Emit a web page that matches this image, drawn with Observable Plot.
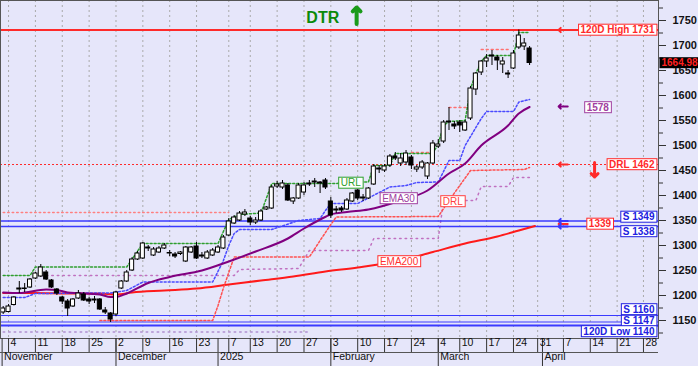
<!DOCTYPE html>
<html><head><meta charset="utf-8">
<script src="https://cdn.jsdelivr.net/npm/d3@7"></script>
<script src="https://cdn.jsdelivr.net/npm/@observablehq/plot@0.6"></script>
<style>body{margin:0;background:#fff} #chart svg{display:block}</style>
</head><body><div id="chart"></div>
<script>
// ---- candle data (bar index = position in arrays) ----
const opens  = [1166,1167,1181,1212,1214,1216,1234,1238,1246,1230,1212,1196,1188,1178,1194,1202,1192,1190,1192,1170,1164,1162,1214,1228,1250,1272,1274,1296,1280,1286,1294,1285,1282,1283,1268,1286,1298,1278,1274,1280,1286,1294,1320,1344,1350,1362,1354,1346,1350,1372,1374,1418,1416,1420,1388,1394,1406,1422,1426,1426,1430,1388,1370,1374,1372,1388,1410,1394,1394,1422,1452,1450,1460,1478,1464,1466,1476,1452,1456,1438,1464,1498,1508,1546,1542,1546,1530,1554,1612,1646,1668,1678,1676,1662,1642,1654,1696,1698,1694];
const highs  = [1178,1182,1198,1228,1224,1234,1246,1262,1250,1232,1214,1198,1192,1194,1210,1206,1196,1198,1194,1176,1166,1208,1230,1250,1276,1288,1306,1300,1296,1298,1304,1290,1286,1288,1298,1298,1306,1286,1290,1294,1300,1320,1354,1360,1368,1372,1358,1356,1372,1378,1420,1428,1430,1424,1396,1424,1426,1430,1434,1428,1434,1396,1378,1378,1394,1406,1412,1402,1416,1462,1460,1462,1482,1486,1484,1490,1480,1460,1470,1466,1510,1512,1550,1576,1548,1550,1550,1618,1646,1670,1682,1690,1680,1676,1650,1690,1731,1714,1698];
const lows   = [1162,1165,1179,1204,1206,1214,1232,1236,1230,1214,1200,1182,1158,1176,1192,1188,1182,1184,1170,1162,1146,1158,1212,1226,1248,1270,1272,1288,1278,1284,1292,1278,1274,1280,1266,1284,1272,1274,1272,1278,1284,1292,1318,1342,1348,1358,1340,1342,1348,1370,1372,1414,1412,1388,1382,1392,1400,1418,1416,1404,1412,1354,1364,1366,1370,1386,1390,1388,1392,1420,1444,1446,1456,1470,1458,1460,1452,1446,1452,1432,1462,1494,1504,1530,1532,1526,1528,1550,1600,1640,1656,1660,1650,1644,1634,1652,1692,1690,1660];
const closes = [1174,1178,1196,1214,1213,1232,1244,1256,1232,1216,1204,1188,1174,1192,1204,1190,1188,1192,1172,1166,1152,1206,1228,1246,1272,1284,1304,1294,1292,1294,1300,1284,1278,1286,1296,1296,1274,1280,1286,1290,1296,1316,1348,1356,1364,1366,1346,1350,1368,1376,1416,1422,1424,1390,1394,1420,1420,1424,1428,1424,1416,1360,1372,1370,1390,1404,1394,1396,1414,1458,1454,1458,1478,1474,1474,1484,1460,1456,1466,1464,1504,1502,1546,1548,1538,1540,1546,1614,1644,1668,1674,1680,1670,1668,1644,1684,1720,1704,1664.98];

// ---- indicator lines: [bar index, value] ----
const ema30  = [[0,1206],[3,1205],[8,1212],[10,1211],[12,1206],[18,1202],[20,1197],[21,1197],[23,1204],[27,1225],[31,1237],[37,1250],[42,1268],[47,1288],[53,1314],[56,1334],[59,1352],[61,1362],[64,1367],[68,1372],[74,1390],[79,1410],[83,1444],[86,1464],[89,1500],[94,1540],[96,1564],[98,1577]];
const ema200 = [[0,1205],[6,1205],[12,1204],[18,1204],[21,1202],[24,1206],[30,1210],[36,1214],[42,1222],[48,1230],[54,1238],[60,1248],[66,1256],[74,1270],[80,1287],[86,1304],[92,1318],[96,1330],[99,1339]];
const urlLine = [[0,1240],[5,1240],[6,1257],[23,1257],[26,1304],[40,1304],[42,1352],[44,1362],[48,1365],[50,1424],[62,1424],[66,1427],[68,1427],[69,1460],[72,1460],[73,1484],[80,1484],[81,1504],[82,1540],[83,1548],[86,1550],[87,1614],[88,1644],[89,1668],[90,1680],[95,1680],[96,1726],[98,1726]];
const drlLine = [[18,1150],[39,1150],[40,1180],[41,1215],[42,1246],[43,1277],[57,1277],[59,1310],[61,1342],[62,1357],[81,1358],[83,1390],[85,1420],[87,1450],[97,1452],[98,1456]];
const stopLine = [[0,1196],[4,1196],[5,1200],[6,1204],[18,1205],[20,1205],[23,1210],[26,1227],[39,1227],[41,1270],[42,1300],[43,1324],[44,1332],[50,1332],[55,1350],[59,1354],[60,1370],[61,1384],[66,1384],[72,1417],[75,1420],[77,1426],[81,1427],[83,1470],[85,1470],[86,1500],[89,1554],[90,1568],[95,1568],[96,1587],[98,1592]];
const midLine = [[7,1240],[43,1240],[44,1252],[55,1254],[57,1290],[68,1290],[69,1314],[81,1314],[82,1390],[88,1390],[89,1418],[94,1418],[95,1436],[98,1436]];
const lowDots = [[0,1127],[57,1127]];
const oldDrl = [[0,1366],[42,1366]];
const resistSegs = [[83,87,1576],[89,94,1692],[76,80,1486]];

// ---- horizontal levels ----
const redLevels = [1731];
const drlLevels = [1462];
const blueLevels = [1349, 1338, 1160, 1147];
const lowLevel = [1140];

// ---- axis ticks ----
const yMajor = [1150,1200,1250,1300,1350,1400,1450,1500,1550,1600,1650,1700,1750];
const yMinor = [1125,1175,1225,1275,1325,1375,1425,1475,1525,1575,1625,1675,1725,1775];
const weekIdx = [1,6,11,16,21,26,31,36,42,46,51,56,61,66,71,76,81,85,90,95,99.5,104.3,109.3,114.3,119.2];
const weekLab = ["4","11","18","25","2","9","16","23","7","13","20","27","3","10","17","24","4","10","17","24","31","7","14","21","28"];
const monthIdx = [-0.2,21,40,61,81,100.4];
const monthLab = ["November","December","2025","February","March","April"];

// ---- annotations ----
const lineLabels = [{t:"URL",i:64.7,v:1425,c:"#2ca02c"},{t:"EMA30",i:73.6,v:1394,c:"#a040a0"},{t:"DRL",i:83.7,v:1388,c:"#ff4040"},{t:"EMA200",i:73.7,v:1268,c:"#ff3030"}];

const ticks = weekIdx.map((i,k)=>({i, label: weekLab[k]}));
const months = monthIdx.map((i,k)=>({i, label: monthLab[k]}));
const candles = opens.map((o,i)=>({i, o, h: highs[i], l: lows[i], c: closes[i]}));
const up = candles.filter(d=>d.c>=d.o), dn = candles.filter(d=>d.c<d.o);
const last = closes[closes.length-1];

const RED="#ff2a2a", BLUE="#3a3aff", PURP="#800080";
const FONT = "'Liberation Sans', Arial, sans-serif";
const arrowX1 = 105.1, arrowX2 = 103.4;

const px = d=>d[0], py = d=>d[1];

const boxed = (data, opts, name) => Plot.text(data, {fontSize: 10, fontFamily: FONT, ariaDescription: name, ...opts});

const chart = Plot.plot({
  width: 698, height: 366,
  marginLeft: 0, marginRight: 40, marginTop: 0, marginBottom: 28,
  x: {type: "linear", domain: [-0.5, 122], axis: null, label: null},
  y: {type: "linear", domain: [1114, 1790], axis: null, label: null},
  style: {background: "#e6e6fa", fontFamily: FONT, overflow: "visible"},
  marks: [
    // grid
    Plot.ruleX(weekIdx, {stroke: "#aaaaaa", strokeDasharray: "2,3"}),
    // faint dotted lines
    Plot.line(lowDots, {x: px, y: py, stroke: "#b090d0", strokeDasharray: "1.5,4"}),
    Plot.line(oldDrl, {x: px, y: py, stroke: "#ff8080", strokeDasharray: "1.5,3"}),
    Plot.line(midLine, {x: px, y: py, stroke: "#c070c0", strokeDasharray: "1.5,4"}),
    ...resistSegs.map(s => Plot.line([[s[0], s[2]], [s[1], s[2]]], {x: px, y: py, stroke: "#ff7070", strokeDasharray: "2,3"})),
    // horizontal levels
    Plot.ruleY(drlLevels, {stroke: RED, strokeDasharray: "2,2"}),
    Plot.ruleY(blueLevels.slice(0,2), {stroke: BLUE, strokeWidth: 1.3}),
    Plot.ruleY(blueLevels.slice(2), {stroke: BLUE, strokeWidth: 1}),
    Plot.ruleY(lowLevel, {stroke: BLUE, strokeWidth: 2.2}),
    Plot.ruleY(redLevels, {stroke: RED, strokeWidth: 2}),
    // indicator lines
    Plot.line(ema200, {x: px, y: py, stroke: "#ff1a1a", strokeWidth: 2, curve: "monotone-x"}),
    Plot.line(stopLine, {x: px, y: py, stroke: "#4a4aff", strokeDasharray: "2,2"}),
    Plot.line(drlLine, {x: px, y: py, stroke: "#ff5050", strokeDasharray: "2,2"}),
    Plot.line(urlLine, {x: px, y: py, stroke: "#2e9e2e", strokeDasharray: "2,2"}),
    Plot.line(ema30, {x: px, y: py, stroke: PURP, strokeWidth: 2, curve: "monotone-x"}),
    // candles
    Plot.ruleX(candles, {x: "i", y1: "l", y2: "h", stroke: "#000", strokeWidth: 1}),
    Plot.rect(up, {x1: d=>d.i-0.38, x2: d=>d.i+0.38, y1: "o", y2: "c", fill: "#fff", stroke: "#000", strokeWidth: 1}),
    Plot.rect(dn, {x1: d=>d.i-0.38, x2: d=>d.i+0.38, y1: "o", y2: "c", fill: "#000", stroke: "#000", strokeWidth: 1}),
    // line labels
    ...lineLabels.map(d => boxed([d], {x: "i", y: "v", text: "t", fill: d.c, textAnchor: "middle"}, "boxed")),
    // right side arrows
    Plot.arrow([1731], {x1: arrowX1, x2: arrowX2, y1: d=>d, y2: d=>d, stroke: RED, strokeWidth: 2, headLength: 5, headAngle: 90}),
    Plot.arrow([1578], {x1: arrowX1, x2: arrowX2, y1: d=>d, y2: d=>d, stroke: PURP, strokeWidth: 2, headLength: 5, headAngle: 90}),
    Plot.arrow([1462], {x1: arrowX1, x2: arrowX2, y1: d=>d, y2: d=>d, stroke: RED, strokeWidth: 2, headLength: 5, headAngle: 90}),
    Plot.arrow([1339], {x1: arrowX1, x2: arrowX2, y1: d=>d, y2: d=>d, stroke: RED, strokeWidth: 2, headLength: 5, headAngle: 90, dy: -2}),
    Plot.arrow([1349, 1338], {x1: arrowX1, x2: arrowX2, y1: d=>d, y2: d=>d, stroke: BLUE, strokeWidth: 2, headLength: 5, headAngle: 90}),
    Plot.arrow([{a: 1466, b: 1437}], {x1: 110.1, x2: 110.1, y1: "a", y2: "b", stroke: RED, strokeWidth: 3, headLength: 8, headAngle: 90}),
    // right side labels
    boxed([1731], {y: d=>d, text: d=>"120D High " + d, frameAnchor: "right", textAnchor: "end", dx: -4, fill: RED, fontWeight: "bold"}, "boxed"),
    boxed([1462], {y: d=>d, text: d=>"DRL " + d, frameAnchor: "right", textAnchor: "end", dx: -4, fill: RED, fontWeight: "bold"}, "boxed"),
    boxed([1349], {y: d=>d, text: d=>"S " + d, frameAnchor: "right", textAnchor: "end", dx: -4, dy: -4, fill: "#2020e0", fontWeight: "bold"}, "boxed"),
    boxed([1338], {y: d=>d, text: d=>"S " + d, frameAnchor: "right", textAnchor: "end", dx: -4, dy: 5, fill: "#2020e0", fontWeight: "bold"}, "boxed"),
    boxed([1160], {y: d=>d, text: d=>"S " + d, frameAnchor: "right", textAnchor: "end", dx: -4, dy: -6, fill: "#2020e0", fontWeight: "bold"}, "boxed"),
    boxed([1147], {y: d=>d, text: d=>"S " + d, frameAnchor: "right", textAnchor: "end", dx: -4, dy: -1, fill: "#2020e0", fontWeight: "bold"}, "boxed"),
    boxed([1140], {y: d=>d, text: d=>"120D Low " + d, frameAnchor: "right", textAnchor: "end", dx: -4, dy: 6, fill: "#2020e0", fontWeight: "bold"}, "boxed"),
    boxed([1578], {x: 110.7, y: d=>d, text: d=>String(d), textAnchor: "middle", fill: "#a040a0", fontWeight: "bold", dy: 1}, "boxed"),
    boxed([1339], {x: 111.1, y: d=>d, text: d=>String(d), textAnchor: "middle", fill: RED, fontWeight: "bold", dy: -2}, "boxed"),
    // title
    Plot.text(["DTR"], {x: 59.5, y: 1756, text: d=>d, fill: "#0a8a0a", fontSize: 16, fontWeight: "bold", fontFamily: FONT}),
    Plot.arrow([{a: 1743, b: 1776}], {x1: 65.8, x2: 65.8, y1: "a", y2: "b", stroke: "#1a9a1a", strokeWidth: 4, headLength: 8, headAngle: 90}),
    // frame & axes
    Plot.frame({stroke: "#555"}),
    Plot.axisY(yMinor, {anchor: "right", label: null, tickSize: 4, tickFormat: () => "", stroke: "#333"}),
    Plot.axisY(yMajor, {anchor: "right", label: null, tickSize: 7, tickPadding: 7, tickFormat: d => String(d), fontSize: 11, fontWeight: "bold", fill: "#111", stroke: "#333"}),
    boxed([last], {y: d=>d, text: d=>d.toFixed(2), frameAnchor: "right", textAnchor: "start", dx: 3, fill: "#ff2020", fontWeight: "bold"}, "pricebox"),
    Plot.axisX(weekIdx, {anchor: "bottom", label: null, tickSize: 14, tickFormat: () => "", stroke: "#333"}),
    Plot.axisX(monthIdx, {anchor: "bottom", label: null, tickSize: 28, tickFormat: () => "", stroke: "#333"}),
    Plot.ruleY([1114], {dy: 14, stroke: "#555"}),
    Plot.text(ticks, {x: "i", text: "label", frameAnchor: "bottom", dy: 7, dx: 2, textAnchor: "start", fontSize: 10.5, fill: "#111"}),
    Plot.text(months, {x: "i", text: "label", frameAnchor: "bottom", dy: 21, dx: 2, textAnchor: "start", fontSize: 10.5, fill: "#111"})
  ]
});

document.getElementById("chart").appendChild(chart);

// boxes behind labelled texts
function addBoxes(desc, fillColor, withStroke) {
  d3.select(chart).selectAll(`g[aria-description="${desc}"]`).each(function() {
    const g = this;
    const gFill = g.getAttribute("fill");
    d3.select(g).selectAll("text").each(function() {
      const bb = this.getBBox();
      const col = this.getAttribute("fill") || gFill || "#000";
      const r = document.createElementNS("http://www.w3.org/2000/svg", "rect");
      r.setAttribute("x", bb.x - 2);
      r.setAttribute("y", bb.y);
      r.setAttribute("width", bb.width + 4);
      r.setAttribute("height", bb.height);
      r.setAttribute("fill", fillColor);
      r.setAttribute("stroke", withStroke ? col : "none");
      r.setAttribute("stroke-width", 1);
      const tr = this.getAttribute("transform");
      if (tr) r.setAttribute("transform", tr);
      this.parentNode.insertBefore(r, this);
    });
  });
}
addBoxes("boxed", "#ffffff", true);
addBoxes("pricebox", "#000000", false);
</script></body></html>
